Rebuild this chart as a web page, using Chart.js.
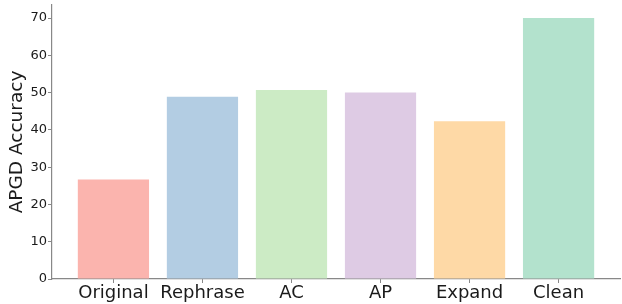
<!DOCTYPE html>
<html>
<head>
<meta charset="utf-8">
<script src="https://cdn.jsdelivr.net/npm/chart.js@4"></script>
<style>
html,body{margin:0;padding:0;background:#fff;}
#wrap{width:622px;height:304px;position:relative;}
</style>
</head>
<body>
<div id="wrap"><canvas id="c" width="622" height="304"></canvas></div>
<script>
const categories = ["Original", "Rephrase", "AC", "AP", "Expand", "Clean"];
const accuracy = [26.7, 48.9, 50.7, 50.0, 42.3, 70.0];
const barColors = ["#fbb4ae", "#b3cde3", "#ccebc5", "#decbe4", "#fed9a6", "#b3e2cd"];
const yTicks = [0, 10, 20, 30, 40, 50, 60, 70];

const points = accuracy.map((v, i) => ({x: i, y: v}));
const axisColor = "#888888";
const textColor = "#1a1a1a";

new Chart(document.getElementById("c"), {
  type: "bar",
  data: {
    datasets: [{
      data: points,
      backgroundColor: barColors,
      borderWidth: 0,
      barPercentage: 0.8,
      categoryPercentage: 1.0
    }]
  },
  options: {
    responsive: false,
    animation: false,
    devicePixelRatio: 1,
    layout: {padding: {left: 0, right: 2, top: 5, bottom: 0}},
    plugins: {legend: {display: false}, tooltip: {enabled: false}},
    scales: {
      x: {
        type: "linear",
        min: -0.69,
        max: 5.69,
        offset: false,
        afterBuildTicks: s => { s.ticks = categories.map((c, i) => ({value: i})); },
        afterFit: s => { s.height = 25; s.paddingLeft = 0; s.paddingRight = 0; },
        ticks: {
          callback: v => categories[v],
          color: textColor,
          font: {family: "DejaVu Sans", size: 18},
          padding: 0,
          maxRotation: 0,
          autoSkip: false
        },
        grid: {drawOnChartArea: false, offset: false, tickLength: 4, color: axisColor, lineWidth: 1},
        border: {color: axisColor, width: 1.2}
      },
      y: {
        min: 0,
        max: 73.5,
        afterBuildTicks: s => { s.ticks = yTicks.map(v => ({value: v})); },
        afterFit: s => { s.width = 52; s.paddingTop = 0; s.paddingBottom = 0; },
        ticks: {
          color: textColor,
          font: {family: "DejaVu Sans", size: 13},
          padding: 1
        },
        grid: {drawOnChartArea: false, offset: false, tickLength: 4, color: axisColor, lineWidth: 1},
        border: {color: axisColor, width: 1.2},
        title: {
          display: true,
          text: "APGD Accuracy",
          color: textColor,
          font: {family: "DejaVu Sans", size: 18.5},
          padding: {top: 6, bottom: 0}
        }
      }
    }
  }
});
</script>
</body>
</html>
